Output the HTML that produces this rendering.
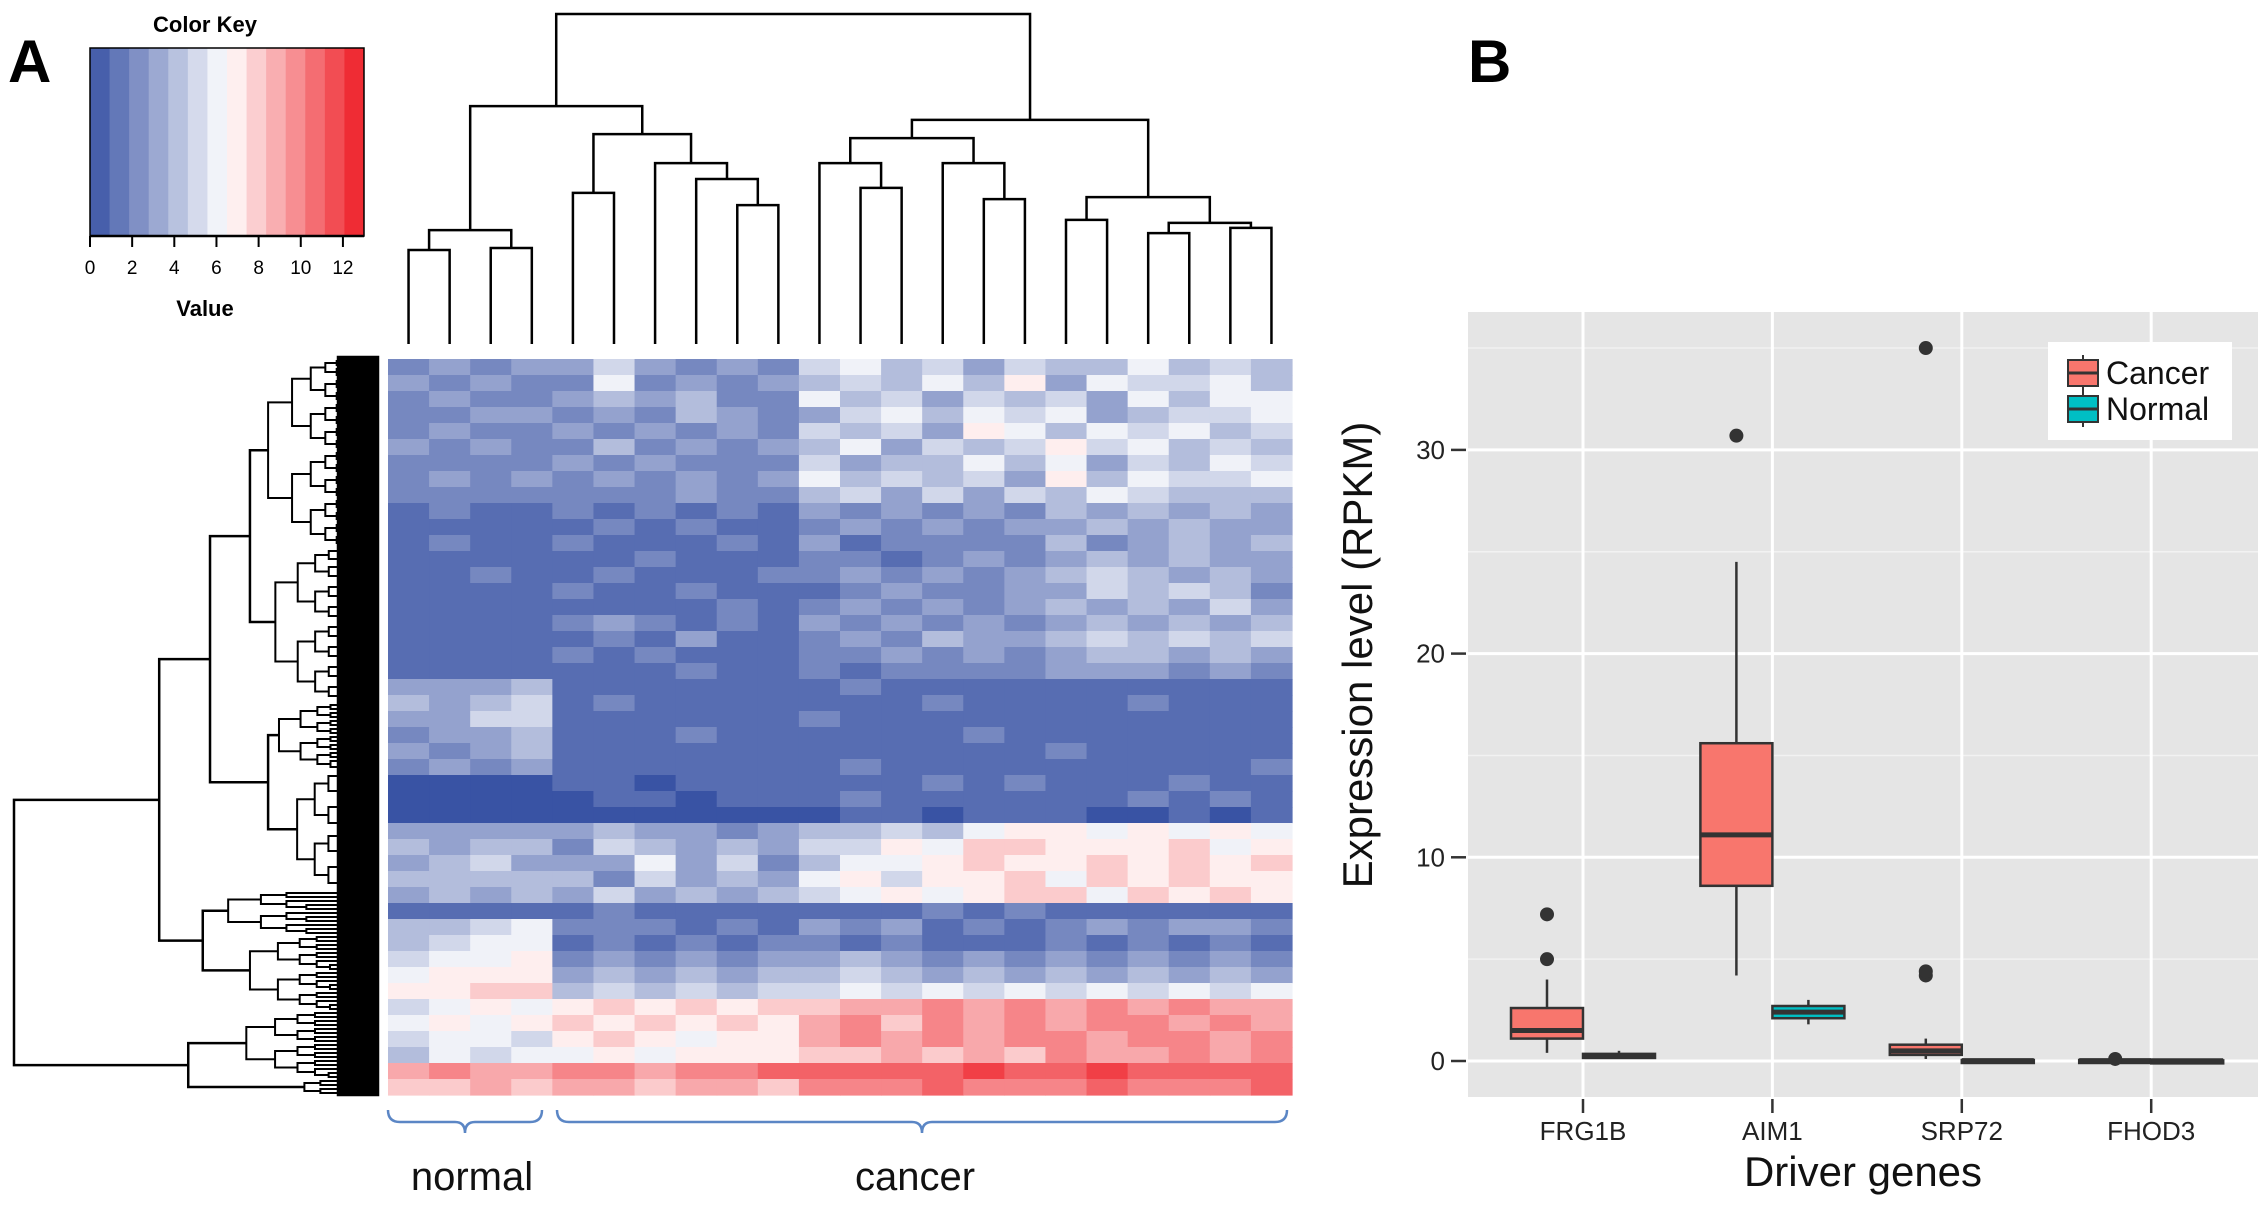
<!DOCTYPE html>
<html><head><meta charset="utf-8"><style>
html,body{margin:0;padding:0;background:#fff;}
svg{display:block;font-family:"Liberation Sans",sans-serif;}
</style></head><body>
<svg id="fig" width="2268" height="1207" viewBox="0 0 2268 1207" xmlns="http://www.w3.org/2000/svg">
<g id="panelA"></g>
<g id="panelB"></g>
</svg>
<script>
// ---------- Heatmap data ----------
const heatRows = [
"2323353232564535446454","3232262323454647365564","2322343422645354536466","2233232432356465634556",
"2322323232545376465645","3232242323463545756454","2222323222534464635465","2323232323645453746556",
"2222222322453535465444",
"1211212121323232434343","1111121211232323343433","1211211121312222423434","1111112111221232343433",
"1121121112232323454343","1111211211123223354542","1111111121232323434353","1111232121323232343434",
"1111121311232433454545","1111212111223232344343","1111111211212222333232",
"3334111111121111111111","4345121111111211112111","3355111111211111111111","2334111211111121111111",
"3234111111111111211111","2323111111121111111112",
"0000110111111212111211","0000011011121111112121","0000000000011011100101",
"3333343323445467767676","4344254343557688777867","3453336352466787787878","4444425343675778687877",
"3434353434567678868787","1111121111111212111111",
"4456222121323121232332","4566121212212111212121","5667232323343232323232","6777343434454343434343",
"7788454545565656565656",
"5676787878899a9a9a9a99","67678787879a8a9a9aa9a9","56657876779a9a9aa9aa9a","4656676777889898a99a9a",
"9a99aa9aabbbbbcbbcbbbb","8898998998aaabaaabaaab"
];
const keyTicks = [0,2,4,6,8,10,12];
// column dendrogram: [mergeHeight, left, right]; leaves = column index
const colTree = [1.0,
  [0.721,[0.345,[0.285,0,1],[0.291,2,3]], [0.636,[0.458,4,5],[0.548,6,[0.500,7,[0.421,8,9]]]]],
  [0.679,[0.624,[0.548,10,[0.473,11,12]],[0.548,13,[0.439,14,15]]],[0.445,[0.376,16,17],[0.367,[0.336,18,19],[0.352,20,21]]]]
];
// row dendrogram: group sizes (rows) and merge heights
const rowGroups = [47,39,17,30,11,19,17,4];
const rowGroupHeights = [0.30,0.28,0.27,0.22,0.41,0.35,0.36,0.20];
const rowTree = [1.0,[0.60,[0.46,[0.35,0,1],[0.30,2,3]],[0.48,4,5]],[0.52,6,7]];

// ---------- Boxplot data ----------
const genes = ["FRG1B","AIM1","SRP72","FHOD3"];
const cancerStats = [[0.4,1.1,1.5,2.6,4.0],[4.2,8.6,11.1,15.6,24.5],[0.1,0.3,0.5,0.8,1.1],[0,0,0.02,0.05,0.08]];
const normalStats = [[0.1,0.15,0.25,0.35,0.5],[1.8,2.1,2.4,2.7,3.0],[0,0,0.02,0.05,0.06],[0,0,0.01,0.03,0.05]];
const cancerOutliers = [[5.0,7.2],[30.7],[4.2,4.4,35.0],[0.1]];
const normalOutliers = [[],[],[],[]];
const yTicks = [0,10,20,30];

const NS="http://www.w3.org/2000/svg";
function mk(tag,attrs,parent,txt){const e=document.createElementNS(NS,tag);for(const k in attrs)e.setAttribute(k,attrs[k]);if(txt!==undefined)e.textContent=txt;parent.appendChild(e);return e;}
const A=document.getElementById('panelA'), B=document.getElementById('panelB');

function colorOf(v){
  const t=Math.max(0,Math.min(1,v/13));
  const b=[57,83,164], w=[255,255,255], r=[238,28,36];
  let c;
  if(t<0.5){const s=t/0.5;c=b.map((x,i)=>Math.round(x+(w[i]-x)*s));}
  else{const s=(t-0.5)/0.5;c=w.map((x,i)=>Math.round(x+(r[i]-x)*s));}
  return `rgb(${c[0]},${c[1]},${c[2]})`;
}

// ---- Heatmap ----
const HX=388,HY=359,HW=904,HH=736,NC=22;
const cw=HW/NC, rh=HH/heatRows.length;
const hm=mk('g',{},A);


heatRows.forEach((row,ri)=>{
  for(let ci=0;ci<NC;ci++){
    const v=parseInt(row[ci],16);
    const r=mk('rect',{x:(HX+ci*cw).toFixed(2),y:(HY+ri*rh).toFixed(2),width:(cw+0.6).toFixed(2),height:(rh+0.6).toFixed(2),fill:colorOf(v)},hm);
    
    
  }
});

// ---- Column dendrogram ----
const cd=mk('g',{stroke:'#000','stroke-width':2.5,fill:'none'},A);


const CBOT=344, CTOP=14;
function colY(h){return CBOT-(CBOT-CTOP)*h;}
function drawCol(node){
  if(typeof node==='number') return {x:HX+cw*(node+0.5),y:CBOT};
  const l=drawCol(node[1]), r=drawCol(node[2]); const y=colY(node[0]);
  mk('path',{d:`M${l.x},${l.y}V${y}H${r.x}V${r.y}`},cd);
  return {x:(l.x+r.x)/2,y:y};
}
drawCol(colTree);

// ---- Row dendrogram ----
const rd=mk('g',{stroke:'#000','stroke-width':2.5,fill:'none'},A);


const RLEAF=377, RROOT=14;
function rowX(h){return RLEAF-(RLEAF-RROOT)*h;}
const totalRows=rowGroups.reduce((a,b)=>a+b,0), rstep=HH/totalRows;
let starts=[],acc=0;rowGroups.forEach(g=>{starts.push(acc);acc+=g;});
function fine(a,b,x0){
  if(b-a<=1) return {x:RLEAF,y:HY+rstep*(a+0.5)};
  const m=Math.floor((a+b)/2);
  const nx=x0+(RLEAF-x0)*0.22;
  const l=fine(a,m,nx), r=fine(m,b,nx);
  mk('path',{d:`M${l.x},${l.y}H${x0}V${r.y}H${r.x}`,'stroke-width':2},rd);
  return {x:x0,y:(l.y+r.y)/2};
}
function drawRow(node){
  if(typeof node==='number'){
    return fine(starts[node],starts[node]+rowGroups[node],rowX(rowGroupHeights[node]));
  }
  const l=drawRow(node[1]), r=drawRow(node[2]); const x=rowX(node[0]);
  mk('path',{d:`M${l.x},${l.y}H${x}V${r.y}H${r.x}`},rd);
  return {x:x,y:(l.y+r.y)/2};
}
drawRow(rowTree);
const band=mk('rect',{x:338,y:HY-2,width:40,height:HH+2,fill:'#000'},rd);



// ---- Color key ----
const KX=90,KY=48,KW=274,KH=188,KMAX=13,NB=14;
const ck=mk('g',{},A);


for(let i=0;i<NB;i++){
  const v=(i+0.5)*KMAX/NB;
  mk('rect',{x:KX+i*KW/NB,y:KY,width:KW/NB+0.5,height:KH,fill:colorOf(v)},ck);
}
mk('rect',{x:KX,y:KY,width:KW,height:KH,fill:'none',stroke:'#000','stroke-width':1.5},ck);
mk('line',{x1:KX,y1:KY+KH,x2:KX+KW,y2:KY+KH,stroke:'#000','stroke-width':2.5},ck);
keyTicks.forEach(t=>{
  const x=KX+KW*t/KMAX;
  mk('line',{x1:x,y1:KY+KH,x2:x,y2:KY+KH+11,stroke:'#000','stroke-width':2},ck);
  const tx=mk('text',{x:x,y:KY+KH+38,'font-size':19,'text-anchor':'middle'},ck,String(t));
  
  
});
const ckt=mk('text',{x:205,y:32,'font-size':22,'font-weight':'bold','text-anchor':'middle'},A,'Color Key');

const vt=mk('text',{x:205,y:316,'font-size':22,'font-weight':'bold','text-anchor':'middle'},A,'Value');

const la=mk('text',{x:8,y:82,'font-size':60,'font-weight':'bold'},A,'A');


// brackets
const br=mk('g',{stroke:'#5b86c5','stroke-width':2.5,fill:'none'},A);

function bracket(x1,x2){const m=(x1+x2)/2;mk('path',{d:`M${x1},1110 Q${x1},1122 ${x1+12},1122 H${m-10} Q${m},1122 ${m},1133 Q${m},1122 ${m+10},1122 H${x2-12} Q${x2},1122 ${x2},1110`},br);}
bracket(388,542);bracket(557,1287);
const tn=mk('text',{x:472,y:1190,'font-size':40,'text-anchor':'middle',fill:'#111'},A,'normal');

const tc=mk('text',{x:915,y:1190,'font-size':40,'text-anchor':'middle',fill:'#111'},A,'cancer');


// ---- Boxplot ----
const PX=1468,PY=312,PW=790,PH=785;
const y0=1061, ppu=20.37;
function yS(v){return y0-v*ppu;}
function xS(i){return 1583+i*189.4;}
const lb=mk('text',{x:1468,y:82,'font-size':60,'font-weight':'bold'},B,'B');

const bg=mk('rect',{x:PX,y:PY,width:PW,height:PH,fill:'#e5e5e5'},B);

const grid=mk('g',{},B);
yTicks.forEach(t=>{
  mk('line',{x1:PX,x2:PX+PW,y1:yS(t),y2:yS(t),stroke:'#fff','stroke-width':3},grid);
  mk('line',{x1:PX,x2:PX+PW,y1:yS(t+5),y2:yS(t+5),stroke:'#f2f2f2','stroke-width':1.5},grid);
  mk('line',{x1:1451,x2:1466,y1:yS(t),y2:yS(t),stroke:'#333','stroke-width':2.5},B);
  const tl=mk('text',{x:1445,y:yS(t)+9,'font-size':26,'text-anchor':'end',fill:'#222'},B,String(t));
  
});
genes.forEach((g,i)=>{
  mk('line',{x1:xS(i),x2:xS(i),y1:PY,y2:PY+PH,stroke:'#fff','stroke-width':3},grid);
  mk('line',{x1:xS(i),x2:xS(i),y1:PY+PH+2,y2:PY+PH+16,stroke:'#333','stroke-width':2.5},B);
  const tl=mk('text',{x:xS(i),y:1140,'font-size':26,'text-anchor':'middle',fill:'#222'},B,g);
  
});
const BW=72;
function box(stats,outs,x,fill,name){
  const g=mk('g',{},B);
  
  
  const cx=x+BW/2;
  mk('line',{x1:cx,x2:cx,y1:yS(stats[0]),y2:yS(stats[1]),stroke:'#333','stroke-width':2.5},g);
  mk('line',{x1:cx,x2:cx,y1:yS(stats[3]),y2:yS(stats[4]),stroke:'#333','stroke-width':2.5},g);
  mk('rect',{x:x,y:yS(stats[3]),width:BW,height:Math.max(3,yS(stats[1])-yS(stats[3])),fill:fill,stroke:'#333','stroke-width':2.5},g);
  mk('line',{x1:x,x2:x+BW,y1:yS(stats[2]),y2:yS(stats[2]),stroke:'#333','stroke-width':5},g);
  outs.forEach(o=>mk('circle',{cx:cx,cy:yS(o),r:7,fill:'#333'},g));
}
genes.forEach((g,i)=>{
  box(cancerStats[i],cancerOutliers[i],xS(i)-BW,'#f8766d','cancer-box-'+g.toLowerCase());
  box(normalStats[i],normalOutliers[i],xS(i),'#00bfc4','normal-box-'+g.toLowerCase());
});
const xt=mk('text',{x:1863,y:1186,'font-size':42,'text-anchor':'middle',fill:'#111'},B,'Driver genes');

const yt=mk('text',{x:0,y:0,'font-size':42,'text-anchor':'middle',fill:'#111',transform:'translate(1372,655) rotate(-90)'},B,'Expression level (RPKM)');

// legend
const lg=mk('g',{},B);
mk('rect',{x:2048,y:342,width:184,height:98,fill:'#fff'},lg);
[['Cancer','#f8766d',373],['Normal','#00bfc4',409]].forEach(([t,c,y])=>{
  const e=mk('g',{},lg);
  
  
  mk('line',{x1:2083,x2:2083,y1:y-18,y2:y+18,stroke:'#333','stroke-width':2},e);
  mk('rect',{x:2068,y:y-13,width:30,height:26,fill:c,stroke:'#333','stroke-width':2},e);
  mk('line',{x1:2068,x2:2098,y1:y,y2:y,stroke:'#333','stroke-width':3},e);
  mk('text',{x:2106,y:y+11,'font-size':32,fill:'#111'},e,t);
});
</script>
</body></html>
